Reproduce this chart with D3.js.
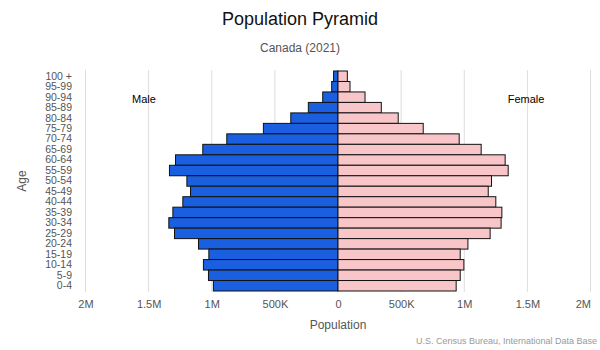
<!DOCTYPE html>
<html><head><meta charset="utf-8">
<script src="https://cdn.jsdelivr.net/npm/d3@7"></script>
<style>body{margin:0;background:#fff}svg{display:block;font-family:"Liberation Sans",Arial,sans-serif}</style>
</head><body><svg id="c" width="600" height="350"></svg>
<script>
const ageGroups = ["100 +","95-99","90-94","85-89","80-84","75-79","70-74","65-69","60-64","55-59","50-54","45-49","40-44","35-39","30-34","25-29","20-24","15-19","10-14","5-9","0-4"];
const male   = [35000,50000,121000,235000,374000,591000,881000,1071000,1287000,1335000,1197000,1168000,1229000,1308000,1340000,1295000,1105000,1023000,1066000,1026000,987000];
const female = [74000,95000,214000,343000,477000,675000,960000,1134000,1324000,1348000,1216000,1190000,1250000,1298000,1292000,1205000,1029000,968000,997000,968000,936000];
const tickValues = [-2000000,-1500000,-1000000,-500000,0,500000,1000000,1500000,2000000];
const tickLabels = ["2M","1.5M","1M","500K","0","500K","1M","1.5M","2M"];

const svg = d3.select("#c");
const x = d3.scaleLinear().domain([-2000000,2000000]).range([85.5,590.5]);
const y = d3.scaleBand().domain(ageGroups).range([71,291]).padding(0);

// gridlines
svg.append("g").selectAll("line").data(tickValues).join("line")
  .attr("x1",d=>x(d)).attr("x2",d=>x(d)).attr("y1",70).attr("y2",292)
  .attr("stroke","#dddddd").attr("stroke-width",1);

// bars
svg.append("g").selectAll("rect").data(ageGroups).join("rect")
  .attr("x",(d,i)=>x(-male[i])).attr("width",(d,i)=>x(0)-x(-male[i]))
  .attr("y",d=>y(d)).attr("height",y.bandwidth())
  .attr("fill","#1a5fe0").attr("stroke","#111").attr("stroke-width",1);
svg.append("g").selectAll("rect").data(ageGroups).join("rect")
  .attr("x",x(0)).attr("width",(d,i)=>x(female[i])-x(0))
  .attr("y",d=>y(d)).attr("height",y.bandwidth())
  .attr("fill","#f8c6c8").attr("stroke","#111").attr("stroke-width",1);

// x axis labels
const xa = svg.append("g").attr("transform","translate(0,308)")
  .call(d3.axisBottom(x).tickValues(tickValues).tickSize(0).tickPadding(0)
    .tickFormat((d,i)=>tickLabels[i]));
xa.select(".domain").remove();
xa.selectAll("text").attr("font-size",11).attr("fill","#555").attr("dy",0)
  .attr("text-anchor",(d,i)=>i===tickValues.length-1?"end":"middle")
  .style("font-family","'Liberation Sans',Arial,sans-serif");

// y axis labels
const ya = svg.append("g").attr("transform","translate(72,0)")
  .call(d3.axisLeft(y).tickSize(0).tickPadding(0));
ya.select(".domain").remove();
ya.selectAll("text").attr("font-size",10.5).attr("fill","#555")
  .style("font-family","'Liberation Sans',Arial,sans-serif");

// texts
svg.append("text").attr("x",300).attr("y",25).attr("text-anchor","middle")
  .attr("font-size",18).attr("fill","#111").text("Population Pyramid");
svg.append("text").attr("x",300).attr("y",52).attr("text-anchor","middle")
  .attr("font-size",12).attr("fill","#555").text("Canada (2021)");
svg.append("text").attr("x",144).attr("y",103).attr("text-anchor","middle")
  .attr("font-size",11).attr("fill","#000").text("Male");
svg.append("text").attr("x",526).attr("y",103).attr("text-anchor","middle")
  .attr("font-size",11).attr("fill","#000").text("Female");
svg.append("text").attr("transform","translate(26,181) rotate(-90)").attr("text-anchor","middle")
  .attr("font-size",12).attr("fill","#555").text("Age");
svg.append("text").attr("x",338).attr("y",329).attr("text-anchor","middle")
  .attr("font-size",12).attr("fill","#555").text("Population");
svg.append("text").attr("x",597).attr("y",344).attr("text-anchor","end")
  .attr("font-size",9).attr("fill","#999").text("U.S. Census Bureau, International Data Base");
</script></body></html>
